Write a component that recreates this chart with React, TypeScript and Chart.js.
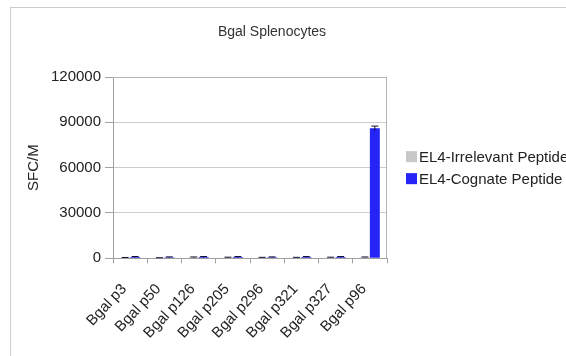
import React, { useEffect, useRef } from "react";
import { Chart, registerables } from "chart.js";

Chart.register(...registerables);

// Peptides tested on Bgal splenocytes
const categories = [
  "Bgal p3",
  "Bgal p50",
  "Bgal p126",
  "Bgal p205",
  "Bgal p296",
  "Bgal p321",
  "Bgal p327",
  "Bgal p96",
];

// Spot-forming cells per million
const irrelevantValues = [400, 300, 700, 600, 500, 500, 600, 700];
const irrelevantErrors = [150, 100, 200, 150, 150, 150, 150, 200];
const cognateValues = [900, 700, 900, 900, 700, 900, 900, 86000];
const cognateErrors = [300, 250, 300, 300, 250, 300, 300, 1500];

const yTicks = [0, 30000, 60000, 90000, 120000];

const chartTitle = "Bgal Splenocytes";

const FONT = "'Liberation Sans', Arial, Helvetica, sans-serif";

// Draws the error whiskers on top of each bar
const errorBarPlugin = {
  id: "errorBars",
  afterDatasetsDraw(chart: any) {
    const ctx = chart.ctx;
    const yScale = chart.scales.y;
    const errs = [irrelevantErrors, cognateErrors];
    chart.data.datasets.forEach((ds: any, di: number) => {
      const meta = chart.getDatasetMeta(di);
      meta.data.forEach((bar: any, i: number) => {
        const v = ds.data[i];
        const e = errs[di][i];
        const yTop = yScale.getPixelForValue(v + e);
        const yBot = yScale.getPixelForValue(Math.max(0, v - e));
        const half = bar.width * 0.35;
        ctx.save();
        ctx.strokeStyle = "#111133";
        ctx.lineWidth = 1;
        ctx.beginPath();
        ctx.moveTo(bar.x, yTop);
        ctx.lineTo(bar.x, yBot);
        ctx.moveTo(bar.x - half, yTop);
        ctx.lineTo(bar.x + half, yTop);
        ctx.stroke();
        ctx.restore();
      });
    });
  },
};

// Light frame around the plotting area
const framePlugin = {
  id: "plotFrame",
  beforeDatasetsDraw(chart: any) {
    const { ctx, chartArea } = chart;
    ctx.save();
    ctx.strokeStyle = "#b4b4b4";
    ctx.lineWidth = 1;
    ctx.beginPath();
    ctx.moveTo(chartArea.left, chartArea.top + 0.5);
    ctx.lineTo(chartArea.right - 0.5, chartArea.top + 0.5);
    ctx.lineTo(chartArea.right - 0.5, chartArea.bottom);
    ctx.stroke();
    ctx.restore();
  },
};

// Chart heading
const headingPlugin = {
  id: "heading",
  afterDraw(chart: any) {
    const ctx = chart.ctx;
    ctx.save();
    ctx.fillStyle = "#333333";
    ctx.font = `14px ${FONT}`;
    ctx.textAlign = "center";
    ctx.textBaseline = "middle";
    ctx.fillText(chartTitle, chart.width * 0.45, 24);
    ctx.restore();
  },
};

// Series key to the right of the plot, centred on it vertically;
// long names simply run off the edge
const sideLegendPlugin = {
  id: "sideLegend",
  afterDraw(chart: any) {
    const { ctx, chartArea } = chart;
    const box = 11;
    const rowGap = 22;
    const x = chartArea.right + 19;
    const cy = (chartArea.top + chartArea.bottom) / 2;
    const n = chart.data.datasets.length;
    ctx.save();
    ctx.font = `15px ${FONT}`;
    ctx.textBaseline = "middle";
    ctx.textAlign = "left";
    chart.data.datasets.forEach((ds: any, i: number) => {
      const y = cy + (i - (n - 1) / 2) * rowGap;
      ctx.fillStyle = ds.backgroundColor;
      ctx.fillRect(x, y - box / 2, box, box);
      ctx.fillStyle = "#222222";
      ctx.fillText(ds.label, x + box + 2, y + 1);
    });
    ctx.restore();
  },
};

export default function App() {
  const canvasRef = useRef<HTMLCanvasElement | null>(null);

  useEffect(() => {
    if (!canvasRef.current) return;
    const chart = new Chart(canvasRef.current, {
      type: "bar",
      data: {
        labels: categories,
        datasets: [
          {
            label: "EL4-Irrelevant Peptide",
            data: irrelevantValues,
            backgroundColor: "#c8c8c8",
            categoryPercentage: 0.58,
            barPercentage: 1,
          },
          {
            label: "EL4-Cognate Peptide",
            data: cognateValues,
            backgroundColor: "#2424f6",
            categoryPercentage: 0.58,
            barPercentage: 1,
          },
        ],
      },
      options: {
        responsive: false,
        animation: false,
        layout: { padding: { left: 14, right: 204, top: 69, bottom: 0 } },
        plugins: {
          title: { display: false },
          legend: { display: false },
          tooltip: { enabled: false },
        },
        scales: {
          x: {
            grid: {
              offset: true,
              drawOnChartArea: false,
              drawTicks: true,
              tickLength: 5,
              color: "#a0a0a0",
            },
            border: { color: "#a0a0a0" },
            ticks: {
              color: "#222222",
              font: { family: FONT, size: 15 },
              minRotation: 47,
              maxRotation: 47,
              padding: 17,
              labelOffset: -6,
            },
          },
          y: {
            min: 0,
            max: 120000,
            afterBuildTicks: (axis: any) => {
              axis.ticks = yTicks.map((v) => ({ value: v }));
            },
            grid: {
              color: "#cccccc",
              drawTicks: true,
              tickLength: 8,
              tickColor: "#a0a0a0",
            },
            border: { color: "#a0a0a0" },
            ticks: {
              color: "#222222",
              font: { family: FONT, size: 15 },
              padding: 4,
              callback: (v: any) => String(v),
            },
            title: {
              display: true,
              text: "SFC/M",
              color: "#222222",
              font: { family: FONT, size: 15 },
              padding: { top: 0, bottom: 4 },
            },
          },
        },
      },
      plugins: [framePlugin, errorBarPlugin, headingPlugin, sideLegendPlugin],
    });
    return () => chart.destroy();
  }, []);

  return (
    <div
      style={{
        position: "fixed",
        left: 0,
        top: 0,
        width: 566,
        height: 356,
        overflow: "hidden",
        background: "#ffffff",
      }}
    >
      <div
        style={{
          position: "absolute",
          left: 10,
          top: 7,
          width: 620,
          height: 400,
          border: "1px solid #cccccc",
          boxSizing: "border-box",
        }}
      >
        <canvas
          ref={canvasRef}
          width={580}
          height={351}
          style={{ position: "absolute", left: 0, top: 0 }}
        />
      </div>
    </div>
  );
}
